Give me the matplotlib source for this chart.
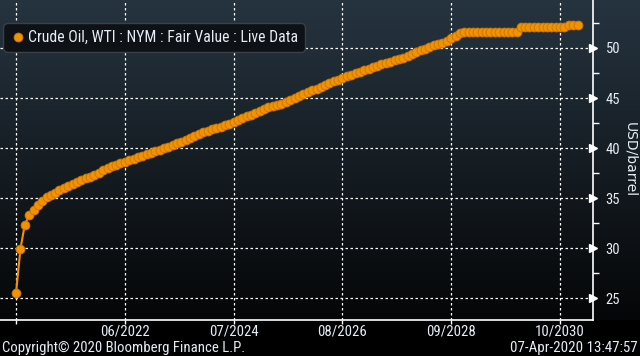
import numpy as np
import pandas as pd
import matplotlib
matplotlib.use("Agg")
import matplotlib.pyplot as plt
from matplotlib import font_manager
from matplotlib.colors import LinearSegmentedColormap

# WTI fair value curve, one point per monthly contract starting May 2020
first_contract = "2020-05-01"
prices = [
    # 2020 (May-Dec)
    25.5, 29.9, 32.3, 33.3, 33.8, 34.3, 34.7, 35.1,
    # 2021
    35.3, 35.5, 35.8, 36.0, 36.2, 36.4, 36.6, 36.8, 37.0, 37.1, 37.3, 37.5,
    # 2022
    37.8, 38.0, 38.2, 38.3, 38.5, 38.6, 38.8, 38.9, 39.1, 39.2, 39.4, 39.5,
    # 2023
    39.7, 39.8, 40.0, 40.1, 40.3, 40.5, 40.6, 40.8, 41.0, 41.2, 41.4, 41.6,
    # 2024
    41.7, 41.9, 42.0, 42.1, 42.3, 42.4, 42.6, 42.8, 43.0, 43.2, 43.3, 43.5,
    # 2025
    43.7, 43.9, 44.1, 44.2, 44.3, 44.4, 44.6, 44.8, 45.0, 45.2, 45.4, 45.6,
    # 2026
    45.8, 45.9, 46.1, 46.3, 46.5, 46.7, 46.8, 47.0, 47.2, 47.3, 47.5, 47.6,
    # 2027
    47.8, 47.9, 48.1, 48.2, 48.4, 48.5, 48.6, 48.8, 48.9, 49.0, 49.2, 49.4,
    # 2028
    49.6, 49.8, 49.9, 50.1, 50.3, 50.4, 50.5, 50.7, 51.0, 51.2, 51.5, 51.6,
    # 2029
    51.6, 51.6, 51.6, 51.6, 51.6, 51.6, 51.6, 51.6, 51.6, 51.6, 51.6, 51.6,
    # 2030
    52.1, 52.1, 52.1, 52.1, 52.1, 52.1, 52.1, 52.1, 52.1, 52.1, 52.1, 52.3,
    # 2031
    52.3, 52.3,
]
tick_dates = ["2020-05-01", "2022-06-01", "2024-07-01", "2026-08-01",
              "2028-09-01", "2030-10-01"]
tick_labels = ["", "06/2022", "07/2024", "08/2026", "09/2028", "10/2030"]
y_ticks = [25, 30, 35, 40, 45, 50]
series_name = "Crude Oil, WTI : NYM : Fair Value : Live Data"

dates = pd.date_range(first_contract, periods=len(prices), freq="MS")

# pick a narrow font if one exists
names = {f.name for f in font_manager.fontManager.ttflist}
family = "DejaVu Sans"
for cand in ["Liberation Sans Narrow", "Roboto Condensed", "Open Sans Condensed"]:
    if cand in names:
        family = cand
        break
plt.rcParams["font.family"] = family

orange = "#f39200"
txt = "#e4ecf4"

fig = plt.figure(figsize=(6.4, 3.56), dpi=100, facecolor="black")

# gradient backdrop
bottom = (356 - 320) / 356
bg = fig.add_axes([0, bottom, 1, 1 - bottom])
cmap = LinearSegmentedColormap.from_list("bb", ["#050607", "#263440"])
bg.imshow(np.linspace(0, 1, 256).reshape(-1, 1), aspect="auto", cmap=cmap,
          origin="lower", extent=[0, 1, 0, 1])
bg.axis("off")

ax = fig.add_axes([0, bottom, 593 / 640, 1 - bottom])
ax.patch.set_alpha(0)

ax.plot(dates, prices, color=orange, lw=1.5, marker="o", ms=6.4,
        mec="#c87400", mew=0.6, label=series_name, zorder=3)

ax.set_xlim(pd.Timestamp("2020-01-10"), pd.Timestamp("2031-05-20"))
ax.set_ylim(22.8, 54.8)

ticks = pd.to_datetime(tick_dates)
ax.set_xticks(ticks)
ax.set_xticklabels(tick_labels)
ax.set_yticks(y_ticks)
ax.set_yticks(np.arange(27.5, 55, 5), minor=True)

ax.grid(True, which="major", color="white", linestyle=(0, (2, 2)), lw=0.9)

for s in ["left", "top"]:
    ax.spines[s].set_visible(False)
for s in ["right", "bottom"]:
    ax.spines[s].set_color("white")
    ax.spines[s].set_linewidth(1.2)

ax.yaxis.tick_right()
ax.yaxis.set_label_position("right")
ax.tick_params(axis="y", which="major", length=0, pad=9, labelsize=10.5,
               labelcolor=txt)
ax.tick_params(axis="y", which="minor", length=4, color="white", width=1)
ax.tick_params(axis="x", length=3, color="white", width=1, labelsize=10.7,
               labelcolor=txt, pad=0.5)

# triangle markers at the major y ticks
ax.plot([1.0] * len(y_ticks), y_ticks, ls="none", marker=">", ms=6,
        color="white", clip_on=False,
        transform=ax.get_yaxis_transform(), zorder=4)

ax.set_ylabel("USD/barrel", rotation=270, color=txt, fontsize=10,
              family="DejaVu Sans", va="center")
ax.yaxis.set_label_coords(630 / 593, 0.5)

leg = ax.legend(loc="upper left", bbox_to_anchor=(0.005, 0.928),
                borderaxespad=0, frameon=True, fontsize=11.3,
                handlelength=1.0, handletextpad=0.15, borderpad=0.45,
                markerscale=1.0, fancybox=True)
leg.get_frame().set_facecolor("#0e1216")
leg.get_frame().set_edgecolor("#3a4046")
leg.get_frame().set_alpha(1)
leg.get_frame().set_boxstyle("round,pad=0,rounding_size=0.3")
for t in leg.get_texts():
    t.set_color(txt)
leg.get_lines()[0].set_linestyle("none")

fig.text(0.003, 0.012, "Copyright\u00a9 2020 Bloomberg Finance L.P.",
         color=txt, fontsize=10.6, ha="left", va="baseline")
fig.text(0.997, 0.012, "07-Apr-2020 13:47:57", color=txt, fontsize=10.8,
         ha="right", va="baseline")

fig.savefig("out.png", dpi=100, facecolor="black")
